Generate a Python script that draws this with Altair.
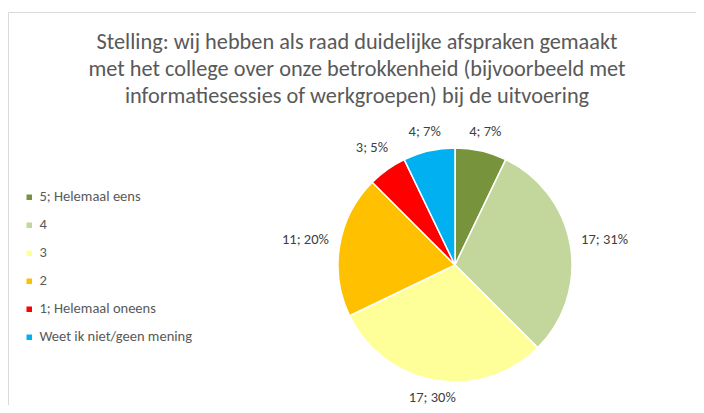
import altair as alt
import pandas as pd

title_lines = [
    "Stelling: wij hebben als raad duidelijke afspraken gemaakt",
    "met het college over onze betrokkenheid (bijvoorbeeld met",
    "informatiesessies of werkgroepen) bij de uitvoering",
]
categories = ["5; Helemaal eens", "4", "3", "2", "1; Helemaal oneens", "Weet ik niet/geen mening"]
counts = [4, 17, 17, 11, 3, 4]
labels = ["4; 7%", "17; 31%", "17; 30%", "11; 20%", "3; 5%", "4; 7%"]
colors = ["#77933C", "#C3D69B", "#FFFF99", "#FFC000", "#FF0000", "#00B0F0"]

FONT = "Carlito, Calibri, 'Open Sans', sans-serif"

df = pd.DataFrame({
    "cat": categories,
    "count": counts,
    "label": labels,
    "ord": list(range(len(categories))),
})

CX, CY, R = 447, 257, 117

arcs = alt.Chart(df).mark_arc(outerRadius=R, stroke="white", strokeWidth=1.5).encode(
    theta=alt.Theta("count:Q", stack=True),
    order=alt.Order("ord:Q"),
    x=alt.value(CX),
    y=alt.value(CY),
    color=alt.Color(
        "cat:N",
        scale=alt.Scale(domain=categories, range=colors),
        sort=categories,
        legend=alt.Legend(
            title=None,
            orient="none",
            legendX=14,
            legendY=182,
            symbolType="square",
            symbolSize=30,
            symbolStrokeWidth=0,
            labelFontSize=14.5,
            labelFont=FONT,
            labelColor="#595959",
            rowPadding=13,
            labelOffset=3,
            padding=0,
        ),
    ),
)

texts = alt.Chart(df).transform_window(
    cum="sum(count)", sort=[alt.SortField("ord")], frame=[None, 0]
).transform_joinaggregate(
    total="sum(count)"
).transform_calculate(
    mid="(datum.cum - datum.count / 2) / datum.total * 2 * PI"
).transform_calculate(
    lr="132 + 20 * abs(sin(datum.mid))"
).mark_text(
    fontSize=14.5, font=FONT, color="#404040", baseline="middle", align="center"
).encode(
    x=alt.value(CX),
    y=alt.value(CY),
    theta=alt.Theta("mid:Q", scale=None, stack=False),
    radius=alt.Radius("lr:Q", scale=None),
    text="label:N",
)

one = pd.DataFrame({"a": [0]})
frame = alt.Chart(one).mark_rect(fill=None, stroke="#d9d9d9", strokeWidth=1).encode(
    x=alt.value(0.5), x2=alt.value(760), y=alt.value(4.5), y2=alt.value(460)
)
title = alt.Chart(one).mark_text(
    fontSize=22.3, font=FONT, color="#595959", align="center", baseline="middle", lineHeight=27
).encode(
    x=alt.value(349), y=alt.value(34), text=alt.value(title_lines)
)

chart = alt.layer(frame, title, arcs, texts).properties(
    width=688, height=397, autosize=alt.AutoSizeParams(type="none"), padding=0
).configure_view(stroke=None)

chart.save("out.html", embed_options={"renderer": "svg", "actions": False})
